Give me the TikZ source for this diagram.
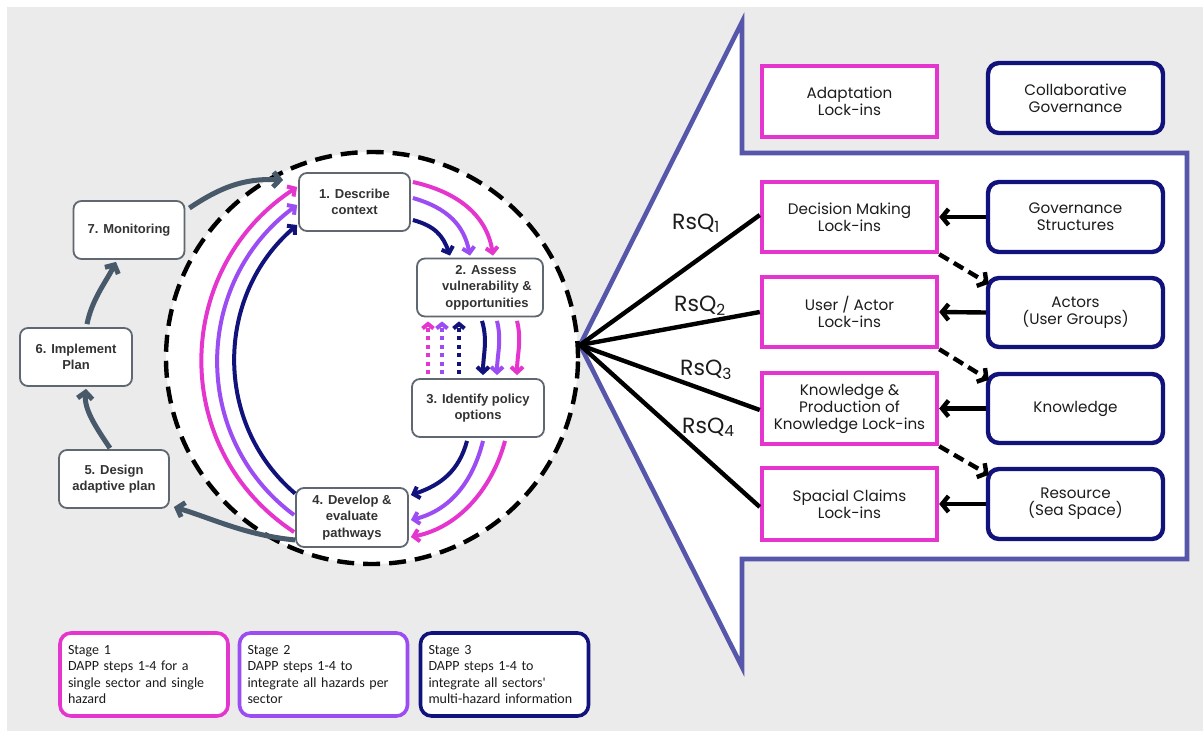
\documentclass[tikz,border=0pt]{standalone}
\usepackage{fontspec}
\setmainfont{Liberation Sans}
\newfontfamily\geo{Poppins}
\newfontfamily\legendfont{Carlito}
\usetikzlibrary{arrows.meta,calc}
\definecolor{bggray}{HTML}{EBEBEB}
\definecolor{dmag}{HTML}{E535CF}
\definecolor{dpur}{HTML}{9B4DF3}
\definecolor{dnavy}{HTML}{12127C}
\definecolor{slate}{HTML}{48596A}
\definecolor{stepgray}{HTML}{5F6770}
\definecolor{steptext}{HTML}{333333}
\definecolor{callblue}{HTML}{5656AA}
\definecolor{lbltext}{HTML}{1C1C1C}
\tikzset{
  stepbox/.style={draw=stepgray, line width=1.8pt, rounded corners=8pt, fill=white,
    align=center, inner sep=0pt, text=steptext,
    font=\bfseries\fontsize{13}{16.5}\selectfont},
  flow/.style={line width=4pt, -{Straight Barb[length=5.5pt,width=12pt]}},
  dotflow/.style={line width=4pt, dash pattern=on 4pt off 4.5pt,
    -{Straight Barb[length=4.5pt,width=11pt]}},
  cycle arrow/.style={slate, line width=5pt, -{Straight Barb[length=6.5pt,width=15pt]}},
  lockbox/.style={draw=dmag, line width=4.4pt, fill=white, minimum width=175pt,
    minimum height=70pt, align=center, inner sep=0pt, text=lbltext,
    font=\geo\fontsize{15.2}{17}\selectfont},
  factorbox/.style={draw=dnavy, line width=4.4pt, rounded corners=11pt, fill=white,
    minimum width=175pt, minimum height=70pt, align=center, inner sep=0pt,
    text=lbltext, font=\geo\fontsize{15.2}{17}\selectfont},
  stagebox/.style={line width=3.6pt, rounded corners=11pt, fill=white,
    minimum height=83pt, text width=152pt, align=left, inner xsep=8pt, inner ysep=0pt,
    text=lbltext, font=\legendfont\fontsize{14}{16.5}\selectfont},
  hubline/.style={black, line width=4.4pt},
  lockarrow/.style={black, line width=4.4pt, -{Straight Barb[length=6.5pt,width=16pt]}},
  lockdash/.style={black, line width=4.4pt, dash pattern=on 11pt off 6pt,
    -{Straight Barb[length=6.5pt,width=16pt]}},
  rsq/.style={anchor=base west, inner sep=0pt, text=lbltext,
    font=\geo\fontsize{22}{24}\selectfont},
}
\begin{document}
\begin{tikzpicture}[x=1pt,y=-1pt]
\useasboundingbox (0,0) rectangle (1203,731);
\fill[white] (0,0) rectangle (1203,731);
\fill[bggray] (7,7) rectangle (1203,731);

% callout frame of the lock-in framework
\coordinate (hub) at (580,345);
\draw[callblue, line width=4.6pt, fill=white, line join=miter]
  (hub) -- (742,22) -- (742,153) -- (1187,153) -- (1187,559)
  -- (742,559) -- (742,667) -- cycle;

% DAPP circle
\draw[black, fill=white, line width=4.4pt, dash pattern=on 17pt off 9pt]
  (372,358) circle[radius=206pt];

% DAPP steps
\node[stepbox, minimum width=111pt, minimum height=58pt] (s1) at (354.5,202) {1. Describe\\context};
\node[stepbox, minimum width=126pt, minimum height=58pt] (s2) at (480,287.5) {\hspace*{12pt}2. Assess\\\hspace*{14pt}vulnerability \&\\\hspace*{14pt}opportunities};
\node[stepbox, minimum width=132pt, minimum height=58pt] (s3) at (478,408) {3. Identify policy\\options};
\node[stepbox, minimum width=112pt, minimum height=59pt] (s4) at (352,517.5) {4. Develop \&\\evaluate\\pathways};
\node[stepbox, minimum width=110pt, minimum height=58pt] (s5) at (114,479) {5. Design\\adaptive plan};
\node[stepbox, minimum width=112pt, minimum height=58pt] (s6) at (76,357) {6. Implement\\Plan};
\node[stepbox, minimum width=111pt, minimum height=58pt] (s7) at (129,230) {7. Monitoring};

% return arcs, step 4 back to step 1
\draw[flow, dmag] ($(s4.west)+(-1,14.5)$) .. controls +(-125,-82) and +(-125,82) .. ($(s1.west)+(-1,-15)$);
\draw[flow, dpur] ($(s4.west)+(-1,-2.5)$) .. controls +(-104,-77) and +(-104,77) .. ($(s1.west)+(-1,3)$);
\draw[flow, dnavy] ($(s4.west)+(0,-24)$) .. controls +(-82,-70) and +(-82,70) .. ($(s1.west)+(-1,23)$);

% step 1 to step 2
\draw[flow, dmag] ($(s1.east)+(2,-20)$) .. controls +(45,10) and +(-6,-40) .. ($(s2.north)+(13,-2)$);
\draw[flow, dpur] ($(s1.east)+(2,-4)$) .. controls +(35,10) and +(-6,-30) .. ($(s2.north)+(-10,-2)$);
\draw[flow, dnavy] ($(s1.east)+(2,18)$) .. controls +(22,6) and +(-7,-20) .. ($(s2.north)+(-30,-2)$);

% step 2 to step 3
\draw[flow, dnavy] ($(s2.south)+(2,3.5)$) .. controls +(6,20) and +(0,-20) .. ($(s3.north)+(5,-3)$);
\draw[flow, dpur] ($(s2.south)+(17,3.5)$) .. controls +(5,20) and +(0,-20) .. ($(s3.north)+(19,-3)$);
\draw[flow, dmag] ($(s2.south)+(37,3.5)$) .. controls +(5,20) and +(0,-20) .. ($(s3.north)+(39,-3)$);

% iteration back from step 3 to step 2
\draw[dotflow, dmag] ($(s3.north)+(-50,-4)$) -- ($(s2.south)+(-52,4)$);
\draw[dotflow, dpur] ($(s3.north)+(-36,-4)$) -- ($(s2.south)+(-38,4)$);
\draw[dotflow, dnavy] ($(s3.north)+(-19,-4)$) -- ($(s2.south)+(-21,4)$);

% step 3 to step 4
\draw[flow, dnavy] ($(s3.south)+(-11,3)$) .. controls +(-8,30) and +(30,-10) .. ($(s4.east)+(2,-22.5)$);
\draw[flow, dpur] ($(s3.south)+(5,3)$) .. controls +(-10,40) and +(40,-10) .. ($(s4.east)+(2,2.5)$);
\draw[flow, dmag] ($(s3.south)+(27,3)$) .. controls +(-12,45) and +(50,-10) .. ($(s4.east)+(2,19.5)$);

% outer cycle
\draw[cycle arrow] ($(s4.west)+(0,22.5)$) .. controls +(-50,-5) and +(40,12) .. ($(s5.east)+(4,28)$);
\draw[cycle arrow] ($(s5.north)+(-4,-1)$) .. controls +(-15,-22) and +(-2,20) .. ($(s6.south)+(10,2)$);
\draw[cycle arrow] ($(s6.north)+(11,-3)$) .. controls +(5,-25) and +(-10,20) .. ($(s7.south)+(-13,2)$);
\draw[cycle arrow] ($(s7.east)+(4,-22)$) .. controls +(30,-20) and +(-40,-2) .. ($(s1.west)+(-15,-22)$);

% lock-in framework
\node[lockbox, minimum height=71pt] (adapt) at (849.5,101.5) {Adaptation\\Lock-ins};
\node[factorbox] (cg) at (1075.5,98) {Collaborative\\Governance};

\node[lockbox] (dm) at (849.5,217) {Decision Making\\Lock-ins};
\node[lockbox] (ua) at (849.5,312) {User / Actor\\Lock-ins};
\node[lockbox, minimum height=71pt] (kp) at (849.5,408.5) {Knowledge \&\\Production of\\Knowledge Lock-ins};
\node[lockbox, minimum height=72pt] (sc) at (849.5,504) {Spacial Claims\\Lock-ins};

\node[factorbox] (gs) at (1075.5,217) {Governance\\Structures};
\node[factorbox, minimum height=69pt] (ac) at (1075.5,312.5) {Actors\\(User Groups)};
\node[factorbox, minimum height=69pt] (kn) at (1075.5,408.5) {Knowledge};
\node[factorbox] (rs) at (1075.5,504) {Resource\\(Sea Space)};

\draw[hubline] (hub) -- ($(dm.west)+(0,-2)$);
\draw[hubline] (hub) -- (ua.west);
\draw[hubline] (hub) -- ($(kp.west)+(0,1.5)$);
\draw[hubline] (hub) -- ($(sc.west)+(0,3)$);

\node[rsq] (q1) at (672,229) {RsQ\textsubscript{1}};
\node[rsq] (q2) at (674,311) {RsQ\textsubscript{2}};
\node[rsq] (q3) at (680,375) {RsQ\textsubscript{3}};
\node[rsq] (q4) at (682,433) {RsQ\textsubscript{4}};

\draw[lockarrow] (gs.west) -- (dm.east);
\draw[lockarrow] (ac.west) -- (ua.east);
\draw[lockarrow] (kn.west) -- (kp.east);
\draw[lockarrow] (rs.west) -- (sc.east);

\draw[lockdash] (dm.south east) -- ($(ac.north west)+(3,8)$);
\draw[lockdash] (ua.south east) -- ($(kn.north west)+(3,8)$);
\draw[lockdash] (kp.south east) -- ($(rs.north west)+(3,8)$);

% stage legend
\node[stagebox, draw=dmag] (st1) at (144,674.5) {Stage 1\\DAPP steps 1-4 for a\\single sector and single\\hazard};
\node[stagebox, draw=dpur] (st2) at (323.5,674.5) {Stage 2\\DAPP steps 1-4 to\\integrate all hazards per\\sector};
\node[stagebox, draw=dnavy] (st3) at (504.5,674.5) {Stage 3\\DAPP steps 1-4 to\\integrate all sectors'\\multi-hazard information};
\end{tikzpicture}
\end{document}
